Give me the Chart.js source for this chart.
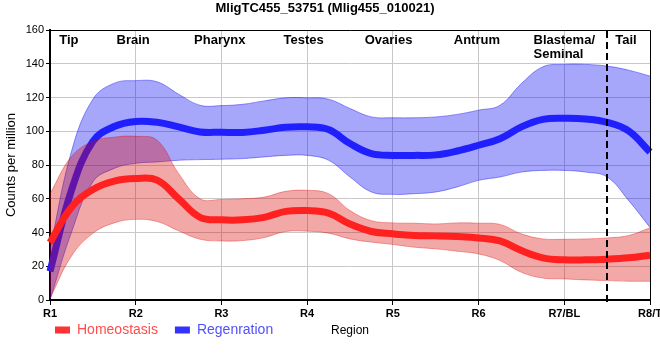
<!DOCTYPE html>
<html><head><meta charset="utf-8">
<script src="https://cdn.jsdelivr.net/npm/chart.js@4.4.0/dist/chart.umd.min.js"></script>
<style>html,body{margin:0;padding:0;background:#fff}#wrap{width:660px;height:360px}</style>
</head><body><div id="wrap"><canvas id="c" width="660" height="360"></canvas></div>
<script>
const chartTitle = 'MligTC455_53751 (Mlig455_010021)';
const yAxisTitle = 'Counts per million';
const xAxisTitle = 'Region';
const xTickLabels = ['R1','R2','R3','R4','R5','R6','R7/BL','R8/T'];
const regionNames = [['Tip'],['Brain'],['Pharynx'],['Testes'],['Ovaries'],['Antrum'],['Blastema/','Seminal'],['Tail']];
const regionPos = [1.22, 1.97, 2.98, 3.96, 4.95, 5.98, 7.0, 7.72];
const dividerPos = 7.5;
const seriesNames = ['Homeostasis','Regenration'];

const positions = [1, 1.25, 1.5, 1.75, 2, 2.25, 2.5, 2.75, 3, 3.25, 3.5, 3.75, 4, 4.25, 4.5, 4.75, 5, 5.25, 5.5, 5.75, 6, 6.25, 6.5, 6.75, 7, 7.25, 7.5, 7.75, 8];

const homeoMean  = [34, 55, 65.5, 70.5, 72, 71, 60, 49, 47.5, 47.5, 49, 52.5, 53, 51.5, 45, 40.6, 39.2, 38.2, 38, 37.6, 36.8, 35, 29.3, 25, 23.8, 23.8, 24.2, 25, 26.5];
const homeoUpper = [63, 85, 94, 96.5, 97, 94.7, 75, 60, 59.6, 60, 61, 64.4, 65, 63, 53, 47, 45.7, 45.5, 45.1, 45.7, 45.5, 44.8, 39.2, 36.2, 36, 36.2, 36.8, 38.2, 42.8];
const homeoLower = [1, 26, 39.5, 45.7, 47.8, 46.5, 41, 36, 35, 35.2, 37, 40.6, 40.8, 39.6, 36.2, 34.3, 32.9, 31.3, 30.3, 28.9, 27.3, 23.4, 16.4, 13, 12.5, 11.9, 11.5, 11.1, 11.1];

const regenMean  = [17, 65, 94, 102.8, 105.8, 105.3, 102.6, 99.6, 99.4, 99.3, 100.6, 102.4, 102.6, 101, 92.7, 86.7, 85.7, 85.7, 86, 88.3, 91.7, 95.6, 102.6, 107, 107.7, 107.3, 105.3, 100.2, 87.7];
const regenUpper = [30, 88, 119, 128.5, 130, 129.3, 122, 115.4, 115.2, 116, 118, 119.8, 119.8, 119, 113.5, 108.5, 108, 108, 108.5, 110, 112.5, 115.4, 128.3, 138.2, 139.6, 139.6, 138.6, 136.2, 132.7];
const regenLower = [0, 40, 70, 78, 81, 81.8, 82.8, 83.2, 83.4, 83.8, 84.8, 85.7, 85.7, 82.8, 72.9, 64, 62.6, 63, 64, 67, 70.9, 72.9, 75.8, 76.8, 76.8, 75.8, 72.9, 59, 43];

const yTicks = {min: 0, max: 160, step: 20};

function pts(vals){ return positions.map((p,i)=>({x:p, y:vals[i]})); }

Chart.defaults.font.family = 'Arial, "Liberation Sans", sans-serif';
Chart.defaults.color = '#000';

const lineCommon = {pointRadius:0, pointHoverRadius:0, tension: 0.4};
const redLine = '#ff2020', blueLine = '#2020ff';
const redBand = 'rgba(220,0,0,0.34)', blueBand = 'rgba(0,0,240,0.35)';
const redEdge = 'rgba(220,0,0,0.35)', blueEdge = 'rgba(0,0,240,0.4)';
const legendBox = ['#ff3333','#3333ff'];
const legendText = ['#ff4d4d','#5050ff'];

const datasets = [
  Object.assign({label: seriesNames[0], data: pts(homeoMean), borderColor: redLine, backgroundColor: redLine, borderWidth: 7, fill: false, clip: false, borderCapStyle:'butt'}, lineCommon),
  Object.assign({label: seriesNames[0]+' upper', data: pts(homeoUpper), borderColor: redEdge, borderWidth: 1, backgroundColor: redBand, fill: '+1'}, lineCommon),
  Object.assign({label: seriesNames[0]+' lower', data: pts(homeoLower), borderColor: redEdge, borderWidth: 1, fill: false}, lineCommon),
  Object.assign({label: seriesNames[1], data: pts(regenMean), borderColor: blueLine, backgroundColor: blueLine, borderWidth: 7, fill: false, clip: false, borderCapStyle:'butt'}, lineCommon),
  Object.assign({label: seriesNames[1]+' upper', data: pts(regenUpper), borderColor: blueEdge, borderWidth: 1, backgroundColor: blueBand, fill: '+1'}, lineCommon),
  Object.assign({label: seriesNames[1]+' lower', data: pts(regenLower), borderColor: blueEdge, borderWidth: 1, fill: false}, lineCommon)
];

const decor = {
  id: 'decor',
  afterLayout(chart){
    const lg = chart.legend;
    if (lg){ lg.left = 38; lg.top = 306; lg.right = 660; lg.bottom = 360; }
  },
  afterDatasetsDraw(chart){
    const {ctx, chartArea: a, scales: {x}} = chart;
    ctx.save();
    ctx.strokeStyle = '#000'; ctx.lineWidth = 1;
    ctx.beginPath();
    ctx.moveTo(a.left, a.top + 0.5); ctx.lineTo(a.right + 0.5, a.top + 0.5); ctx.lineTo(a.right + 0.5, a.bottom);
    ctx.stroke();
    const dx = Math.round(x.getPixelForValue(dividerPos));
    ctx.lineWidth = 2; ctx.setLineDash([7,4]);
    ctx.beginPath(); ctx.moveTo(dx, a.top + 1); ctx.lineTo(dx, a.bottom + 5); ctx.stroke();
    ctx.setLineDash([]);
    ctx.fillStyle = '#000';
    ctx.font = 'bold 13px Arial, "Liberation Sans", sans-serif';
    ctx.textBaseline = 'middle';
    regionNames.forEach((lines, i) => {
      const cx = x.getPixelForValue(regionPos[i]);
      const w = Math.max(...lines.map(t => ctx.measureText(t).width));
      ctx.textAlign = 'left';
      lines.forEach((t, k) => ctx.fillText(t, cx - w/2, a.top + 10 + k*14));
    });
    ctx.font = '12px Arial, "Liberation Sans", sans-serif';
    ctx.textAlign = 'center';
    ctx.fillText(xAxisTitle, (a.left + a.right)/2, 331);
    ctx.restore();
  }
};

new Chart(document.getElementById('c'), {
  type: 'line',
  data: {datasets},
  options: {
    responsive: false,
    animation: false,
    devicePixelRatio: 1,
    layout: {padding: {left: 0, right: 10, top: 0, bottom: 0}},
    plugins: {
      title: {display: true, text: chartTitle, font: {size: 13, weight: 'bold'}, color: '#000', padding: {top: 0.5, bottom: 13.9}},
      legend: {
        display: true, position: 'bottom', align: 'start', maxHeight: 40,
        labels: {
          boxWidth: 15, boxHeight: 7, padding: 17, font: {size: 14},
          generateLabels(chart){
            return seriesNames.map((name, k) => ({
              text: name, fillStyle: legendBox[k], strokeStyle: legendBox[k], lineWidth: 0,
              fontColor: legendText[k], hidden: false,
              datasetIndex: chart.data.datasets.findIndex(d => d.label === name)
            }));
          }
        }
      },
      tooltip: {enabled: false}
    },
    scales: {
      x: {
        type: 'linear', min: 1, max: 8,
        afterFit(s){ s.height = 20; s.paddingLeft = 0; s.paddingRight = 0; },
        ticks: {stepSize: 1, autoSkip: false, maxRotation: 0, padding: 2, color: '#000', font: {size: 11, weight: 'bold'},
          callback: (v) => xTickLabels[Math.round(v) - 1]},
        grid: {color: '#c8c8c8', tickColor: '#000', tickLength: 5, lineWidth: 1},
        border: {color: '#000', width: 2}
      },
      y: {
        min: yTicks.min, max: yTicks.max,
        afterFit(s){ s.width = 50; },
        ticks: {stepSize: yTicks.step, padding: 2, color: '#000', font: {size: 11}},
        grid: {color: '#c8c8c8', tickColor: '#000', tickLength: 4, lineWidth: 1},
        border: {color: '#000', width: 2},
        title: {display: true, text: yAxisTitle, color: '#000', font: {size: 13}, padding: {top: 4, bottom: 0}}
      }
    }
  },
  plugins: [decor]
});
</script>
</body></html>
